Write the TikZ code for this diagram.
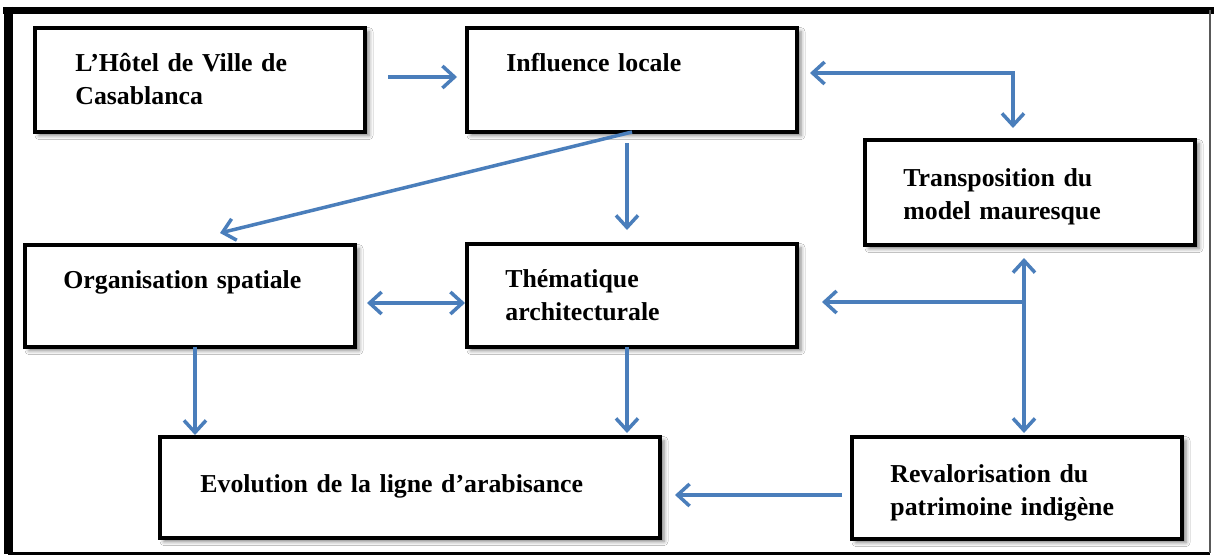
\documentclass[tikz,border=0pt]{standalone}
\usepackage{fontspec}
\setmainfont{Liberation Serif}
\usetikzlibrary{arrows.meta,calc,shadows.blur}
\definecolor{arrblue}{RGB}{74,126,187}
\begin{document}
\begin{tikzpicture}[x=0.5pt,y=-0.5pt,
  box/.style={draw=black, line width=1.6pt, fill=white, inner sep=0pt, outer sep=0pt,
    blur shadow={shadow xshift=2pt, shadow yshift=-1.8pt, shadow blur radius=2pt, shadow opacity=50}},
  lbl/.style={anchor=base west, inner sep=0pt, text width=220pt, align=left,
    font=\fontsize{12.9}{16.5}\selectfont\bfseries},
  conn/.style={draw=arrblue, line width=1.75pt, -{Straight Barb[length=6pt,width=11pt]}},
  conntwo/.style={draw=arrblue, line width=1.75pt, {Straight Barb[length=6pt,width=11pt]}-{Straight Barb[length=6pt,width=11pt]}}]
\useasboundingbox (0,0) rectangle (1214,556);
\fill[white] (0,0) rectangle (1214,556);
% frame
\draw[line width=3.5pt] (3,10.5) -- (1214,10.5);
\draw[line width=4.5pt] (8,7) -- (8,554);
\draw[line width=1.5pt] (8,553) -- (1210,553);
\draw[line width=1pt, gray!70!black] (1210,10) -- (1210,553);
% boxes
\node[box, minimum width=165pt, minimum height=52pt] (A) at (200,80) {};
\node[box, minimum width=165pt, minimum height=52pt] (B) at (632,80) {};
\node[box, minimum width=165pt, minimum height=52.5pt] (C) at (1030,192.5) {};
\node[box, minimum width=165pt, minimum height=51pt] (D) at (190,296) {};
\node[box, minimum width=165pt, minimum height=51.5pt] (E) at (632,295.5) {};
\node[box, minimum width=250pt, minimum height=50.5pt] (F) at (410,487.5) {};
\node[box, minimum width=165pt, minimum height=51pt] (G) at (1017,488) {};
% labels
\node[lbl] (tA) at (75,72) {L’Hôtel de Ville de\\Casablanca};
\node[lbl] (tB) at (506,72) {Influence locale};
\node[lbl] (tC) at (903,186) {Transposition du\\model mauresque};
\node[lbl] (tD) at (63,288) {Organisation spatiale};
\node[lbl] (tE) at (505,287) {Thématique\\architecturale};
\node[lbl] (tF) at (200,492) {Evolution de la ligne d’arabisance};
\node[lbl] (tG) at (890,482) {Revalorisation du\\patrimoine indigène};
% connectors
\draw[conn] ($(A.east)+(23,-3)$) -- ($(B.west)+(-10,-3)$);
\draw[conntwo] ($(B.east)+(13,-7)$) -| ($(C.north)+(-17,-12)$);
\draw[conn] (B.south) -- ($(D.north)+(30,-12)$);
\draw[conn] ($(B.south)+(-5,11)$) -- ($(E.north)+(-5,-14)$);
\draw[conntwo] ($(D.east)+(12,7)$) -- ($(E.west)+(-2,7.5)$);
\draw[conn] ($(D.south)+(5,0)$) -- ($(D.south |- F.north)+(5,-2)$);
\draw[conn] ($(E.south)+(-5,0)$) -- ($(E.south |- F.north)+(-5,-4)$);
\draw[conn] ($(G.west)+(-10,7)$) -- ($(F.east)+(15,7.5)$);
\draw[conntwo] ($(C.south)+(-6,13)$) -- ($(C.south |- G.north)+(-6,-4)$);
\draw[conn] ($(C.south)+(-6,57)$) -- ($(E.east)+(25,6.5)$);
\end{tikzpicture}
\end{document}
